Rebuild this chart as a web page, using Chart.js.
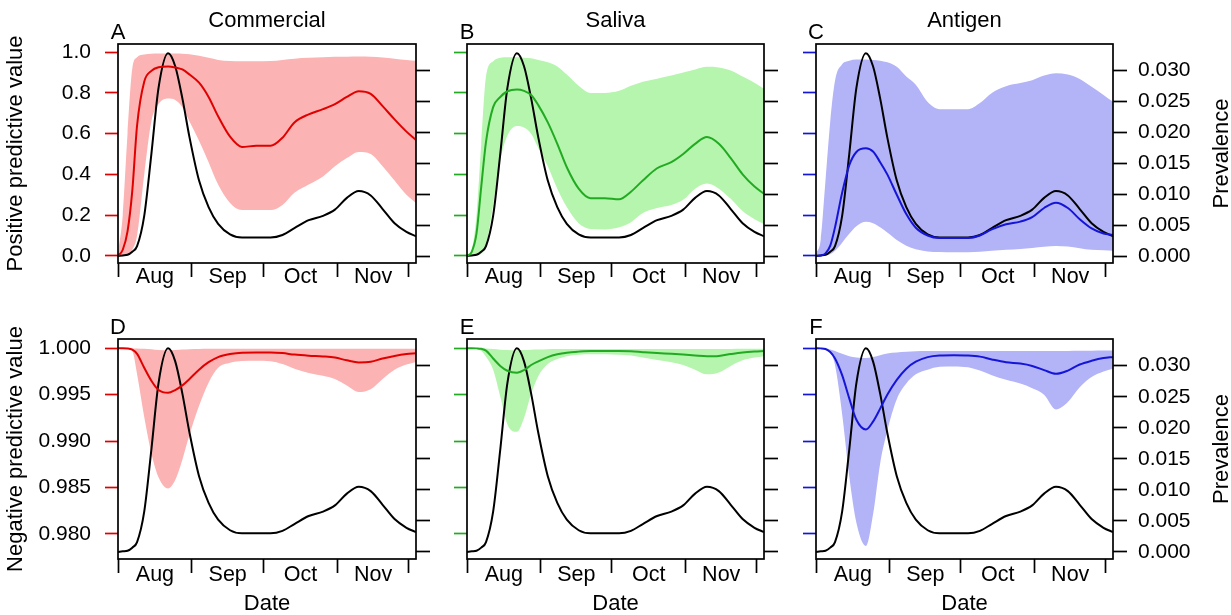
<!DOCTYPE html>
<html>
<head>
<meta charset="utf-8">
<script src="https://cdn.jsdelivr.net/npm/chart.js@4"></script>
<style>
  body { margin: 0; background: #fff; width: 1231px; height: 615px; position: relative; overflow: hidden; }
  canvas { position: absolute; }
</style>
</head>
<body>
<canvas id="pA"></canvas>
<canvas id="pB"></canvas>
<canvas id="pC"></canvas>
<canvas id="pD"></canvas>
<canvas id="pE"></canvas>
<canvas id="pF"></canvas>
<script>
// days since 1 Aug
const days = [0, 2, 4, 6, 8, 11, 14, 17, 21, 24, 27, 30, 34, 38, 42, 47, 52, 58, 64, 69, 74, 80, 86, 91, 96, 101, 106, 111, 116, 121, 125];

const prevalence = [0.0000, 0.0001, 0.0002, 0.0007, 0.0016, 0.0065, 0.0165, 0.0272, 0.0328, 0.0307, 0.0255, 0.0192, 0.0122, 0.0079, 0.0052, 0.0035, 0.0030, 0.0030, 0.0030, 0.0034, 0.0045, 0.0058, 0.0065, 0.0075, 0.0094, 0.0105, 0.0098, 0.0076, 0.0053, 0.0039, 0.0032];

// positive predictive value
const ppvCommercialMean = [0, 0.03, 0.12, 0.32, 0.64, 0.855, 0.908, 0.926, 0.93, 0.925, 0.915, 0.89, 0.85, 0.78, 0.685, 0.585, 0.535, 0.54, 0.54, 0.58, 0.655, 0.695, 0.72, 0.745, 0.78, 0.808, 0.795, 0.735, 0.67, 0.61, 0.569];
const ppvCommercialLow = [0, 0, 0.005, 0.03, 0.10, 0.40, 0.66, 0.745, 0.772, 0.765, 0.73, 0.66, 0.565, 0.46, 0.35, 0.26, 0.225, 0.225, 0.225, 0.25, 0.31, 0.35, 0.39, 0.44, 0.48, 0.51, 0.50, 0.44, 0.37, 0.30, 0.26];
const ppvCommercialHigh = [0.01, 0.2, 0.6, 0.92, 0.975, 0.988, 0.992, 0.993, 0.993, 0.993, 0.992, 0.99, 0.982, 0.972, 0.962, 0.956, 0.955, 0.955, 0.956, 0.962, 0.968, 0.972, 0.975, 0.977, 0.978, 0.979, 0.978, 0.974, 0.968, 0.962, 0.958];

const ppvSalivaMean = [0, 0.02, 0.11, 0.34, 0.56, 0.73, 0.78, 0.808, 0.817, 0.81, 0.79, 0.74, 0.655, 0.55, 0.435, 0.33, 0.283, 0.283, 0.278, 0.315, 0.37, 0.43, 0.46, 0.50, 0.55, 0.583, 0.55, 0.48, 0.40, 0.34, 0.305];
const ppvSalivaLow = [0, 0, 0.003, 0.01, 0.05, 0.25, 0.47, 0.59, 0.638, 0.63, 0.60, 0.53, 0.44, 0.33, 0.24, 0.16, 0.132, 0.13, 0.14, 0.165, 0.21, 0.235, 0.25, 0.275, 0.33, 0.355, 0.33, 0.28, 0.22, 0.18, 0.157];
const ppvSalivaHigh = [0, 0.03, 0.2, 0.55, 0.88, 0.955, 0.972, 0.975, 0.975, 0.973, 0.97, 0.962, 0.95, 0.93, 0.89, 0.835, 0.80, 0.80, 0.81, 0.835, 0.855, 0.87, 0.885, 0.90, 0.915, 0.928, 0.925, 0.91, 0.88, 0.85, 0.82];

const ppvAntigenMean = [0, 0.002, 0.012, 0.05, 0.14, 0.31, 0.445, 0.51, 0.528, 0.512, 0.46, 0.40, 0.30, 0.205, 0.138, 0.10, 0.088, 0.088, 0.088, 0.10, 0.13, 0.155, 0.168, 0.19, 0.235, 0.261, 0.235, 0.18, 0.135, 0.11, 0.103];
const ppvAntigenLow = [0, 0, 0.002, 0.008, 0.025, 0.065, 0.108, 0.145, 0.167, 0.16, 0.14, 0.115, 0.078, 0.05, 0.033, 0.022, 0.019, 0.018, 0.018, 0.02, 0.025, 0.03, 0.034, 0.039, 0.045, 0.049, 0.046, 0.038, 0.03, 0.027, 0.025];
const ppvAntigenHigh = [0.01, 0.08, 0.37, 0.66, 0.86, 0.94, 0.958, 0.964, 0.964, 0.962, 0.958, 0.95, 0.928, 0.88, 0.84, 0.755, 0.72, 0.72, 0.72, 0.75, 0.80, 0.833, 0.848, 0.862, 0.885, 0.897, 0.89, 0.868, 0.83, 0.79, 0.756];

// negative predictive value
const npvCommercialMean = [1.0, 1.0, 0.99998, 0.99985, 0.9994, 0.9979, 0.9965, 0.9955, 0.9952, 0.9955, 0.9960, 0.9967, 0.9977, 0.9985, 0.99905, 0.99938, 0.99953, 0.99955, 0.99955, 0.99948, 0.99932, 0.9992, 0.99912, 0.9990, 0.9987, 0.99848, 0.99855, 0.9989, 0.99918, 0.99938, 0.99946];
const npvCommercialLow = [1.0, 1.0, 0.99995, 0.9997, 0.9972, 0.9926, 0.9887, 0.9861, 0.9849, 0.9858, 0.9880, 0.9907, 0.9938, 0.9963, 0.9979, 0.99845, 0.99862, 0.99865, 0.9986, 0.9983, 0.9978, 0.99735, 0.99705, 0.9967, 0.9960, 0.9953, 0.9956, 0.9967, 0.9977, 0.99825, 0.99853];
const npvCommercialHigh = [1.0, 1.0, 1.0, 0.99999, 0.99998, 0.99994, 0.9999, 0.99982, 0.9998, 0.99982, 0.99986, 0.9999, 0.99992, 0.99994, 0.99995, 0.99995, 0.99995, 0.99995, 0.99995, 0.99995, 0.99995, 0.99995, 0.99995, 0.99995, 0.99995, 0.99995, 0.99995, 0.99995, 0.99996, 0.99996, 0.99996];

const npvSalivaMean = [1.0, 1.0, 0.99999, 0.99994, 0.99975, 0.9989, 0.9981, 0.99758, 0.99737, 0.99765, 0.9982, 0.9986, 0.99905, 0.99935, 0.99953, 0.99964, 0.9997, 0.9997, 0.9997, 0.99967, 0.99958, 0.99948, 0.9994, 0.99932, 0.99922, 0.99914, 0.99918, 0.99938, 0.99955, 0.99965, 0.9997];
const npvSalivaLow = [1.0, 1.0, 0.99995, 0.9997, 0.9991, 0.9977, 0.9948, 0.9918, 0.9910, 0.9925, 0.9951, 0.9970, 0.9983, 0.99885, 0.99915, 0.9993, 0.99935, 0.99935, 0.9993, 0.99922, 0.9990, 0.99875, 0.9985, 0.9982, 0.9977, 0.9972, 0.9974, 0.9981, 0.9987, 0.9990, 0.99915];
const npvSalivaHigh = [1.0, 1.0, 1.0, 0.99999, 0.99997, 0.99992, 0.99985, 0.99982, 0.9998, 0.99982, 0.99985, 0.99987, 0.9999, 0.99991, 0.99992, 0.99992, 0.99992, 0.99992, 0.99992, 0.99992, 0.99992, 0.99992, 0.99992, 0.99992, 0.99992, 0.99992, 0.99992, 0.99993, 0.99994, 0.99995, 0.99995];

const npvAntigenMean = [1.0, 0.99999, 0.99992, 0.9996, 0.9989, 0.9971, 0.9946, 0.9923, 0.99125, 0.9921, 0.9935, 0.9950, 0.9966, 0.9978, 0.99855, 0.99905, 0.99922, 0.99925, 0.99922, 0.9991, 0.9988, 0.9985, 0.99835, 0.9981, 0.99765, 0.99725, 0.9976, 0.99825, 0.99865, 0.99895, 0.99907];
const npvAntigenLow = [1.0, 1.0, 0.99995, 0.9996, 0.9982, 0.9929, 0.9862, 0.9812, 0.9787, 0.9821, 0.9876, 0.9911, 0.9945, 0.9962, 0.9972, 0.9977, 0.9980, 0.99805, 0.99795, 0.9976, 0.9971, 0.9966, 0.9962, 0.9957, 0.9950, 0.9934, 0.9942, 0.9958, 0.9969, 0.9975, 0.9978];
const npvAntigenHigh = [1.0, 1.0, 0.99998, 0.99988, 0.9997, 0.9994, 0.99915, 0.999, 0.99895, 0.99905, 0.99925, 0.99945, 0.99955, 0.99962, 0.99968, 0.99972, 0.99972, 0.99972, 0.99972, 0.99972, 0.99972, 0.99972, 0.99972, 0.99972, 0.99972, 0.99972, 0.99972, 0.99973, 0.99974, 0.99975, 0.99975];

// axes
const monthStarts = [0, 31, 61, 92, 122];
const monthMids = [15.5, 46, 76.5, 107];
const monthLabels = ["Aug", "Sep", "Oct", "Nov"];
const ppvTicks = [0, 0.2, 0.4, 0.6, 0.8, 1.0];
const npvTicks = [0.98, 0.985, 0.99, 0.995, 1.0];
const prevTicks = [0, 0.005, 0.01, 0.015, 0.02, 0.025, 0.03];

const FONT = "'Liberation Sans', Arial, Helvetica, sans-serif";
Chart.defaults.font.family = FONT;
Chart.defaults.font.size = 21;
Chart.defaults.color = "#000";

const RED = "#e00000", RED_BAND = "#fbb3b3";
const GREEN = "#22aa22", GREEN_BAND = "#b6f5ae";
const BLUE = "#1515d8", BLUE_BAND = "#b3b3f7";

// layout (px)
const colLeft = [0, 440, 790], colWidth = [440, 350, 441];
const leftW = [118, 27, 26], rightW = [24, 26, 118];
const rowTop = [0, 300], rowHeight = [300, 315];
const padTop = [44, 39], xAxisH = [37, 56];

const framePlugin = {
  id: "frame",
  afterDraw(chart, args, opts) {
    const { ctx, chartArea: a } = chart;
    ctx.save();
    ctx.strokeStyle = "#000";
    ctx.lineWidth = 1.7;
    ctx.strokeRect(a.left, a.top, a.right - a.left, a.bottom - a.top);
    ctx.fillStyle = "#000";
    ctx.font = "22px " + FONT;
    ctx.textAlign = "center";
    ctx.textBaseline = "alphabetic";
    ctx.fillText(opts.letter, a.left, a.top - 5);
    if (opts.title) ctx.fillText(opts.title, (a.left + a.right) / 2, a.top - 17);
    if (opts.rightTitle) {
      ctx.translate(chart.width - 3, (a.top + a.bottom) / 2);
      ctx.rotate(-Math.PI / 2);
      ctx.fillText(opts.rightTitle, 0, 0);
    }
    ctx.restore();
  }
};

function pts(arr) {
  return days.map((d, i) => ({ x: d, y: arr[i] }));
}

function drawPanel(id, row, col, letter, title, mean, low, high, line, band) {
  const canvas = document.getElementById(id);
  canvas.width = colWidth[col];
  canvas.height = rowHeight[row];
  canvas.style.left = colLeft[col] + "px";
  canvas.style.top = rowTop[row] + "px";
  const top = row === 0;

  new Chart(canvas, {
    type: "line",
    data: {
      datasets: [
        { data: pts(high), yAxisID: "y", borderWidth: 0, backgroundColor: band, fill: "+1", order: 3 },
        { data: pts(low), yAxisID: "y", borderWidth: 0, fill: false, order: 3 },
        { data: pts(prevalence), yAxisID: "y2", borderColor: "#000", borderWidth: 2, order: 2 },
        { data: pts(mean), yAxisID: "y", borderColor: line, borderWidth: 2, order: 1 }
      ]
    },
    options: {
      responsive: false,
      devicePixelRatio: 1,
      animation: false,
      layout: { padding: { top: padTop[row], left: 0, right: 0, bottom: 0 } },
      elements: {
        point: { radius: 0 },
        line: { cubicInterpolationMode: "monotone" }
      },
      plugins: {
        legend: { display: false },
        tooltip: { enabled: false },
        frame: { letter, title, rightTitle: col === 2 ? "Prevalence" : "" }
      },
      scales: {
        x: {
          type: "linear",
          min: 0,
          max: 125,
          afterBuildTicks: s => { s.ticks = monthStarts.concat(monthMids).sort((a, b) => a - b).map(v => ({ value: v })); },
          afterFit: s => { s.height = xAxisH[row]; },
          grid: {
            drawOnChartArea: false,
            tickLength: 14,
            tickWidth: 1.7,
            tickColor: c => (c.tick && monthStarts.includes(c.tick.value)) ? "#000" : "rgba(0,0,0,0)"
          },
          border: { display: false },
          ticks: {
            autoSkip: false,
            maxRotation: 0,
            font: { size: 21.5 },
            padding: top ? -13 : -11,
            callback: v => { const i = monthMids.indexOf(v); return i < 0 ? "" : monthLabels[i]; }
          },
          title: { display: !top, text: "Date", font: { size: 22, lineHeight: 1 }, padding: 0 }
        },
        y: {
          position: "left",
          min: top ? -0.035 : 0.9773,
          max: top ? 1.04 : 1.001,
          afterBuildTicks: s => { s.ticks = (top ? ppvTicks : npvTicks).map(v => ({ value: v })); },
          afterFit: s => { s.width = leftW[col]; },
          grid: { drawOnChartArea: false, tickLength: 13, tickWidth: 1.7, tickColor: line },
          border: { display: false },
          ticks: {
            autoSkip: false,
            padding: 14,
            callback: v => col === 0 ? v.toFixed(top ? 1 : 3) : ""
          },
          title: {
            display: col === 0,
            text: top ? "Positive predictive value" : "Negative predictive value",
            font: { size: 22 },
            padding: { top: 3 }
          }
        },
        y2: {
          position: "right",
          min: -0.00113,
          max: 0.0343,
          afterBuildTicks: s => { s.ticks = prevTicks.map(v => ({ value: v })); },
          afterFit: s => { s.width = rightW[col]; },
          grid: { drawOnChartArea: false, tickLength: 14, tickWidth: 1.7, tickColor: "#000" },
          border: { display: false },
          ticks: {
            autoSkip: false,
            padding: 11,
            callback: v => col === 2 ? v.toFixed(3) : ""
          }
        }
      }
    },
    plugins: [framePlugin]
  });
}

drawPanel("pA", 0, 0, "A", "Commercial", ppvCommercialMean, ppvCommercialLow, ppvCommercialHigh, RED, RED_BAND);
drawPanel("pB", 0, 1, "B", "Saliva", ppvSalivaMean, ppvSalivaLow, ppvSalivaHigh, GREEN, GREEN_BAND);
drawPanel("pC", 0, 2, "C", "Antigen", ppvAntigenMean, ppvAntigenLow, ppvAntigenHigh, BLUE, BLUE_BAND);
drawPanel("pD", 1, 0, "D", "", npvCommercialMean, npvCommercialLow, npvCommercialHigh, RED, RED_BAND);
drawPanel("pE", 1, 1, "E", "", npvSalivaMean, npvSalivaLow, npvSalivaHigh, GREEN, GREEN_BAND);
drawPanel("pF", 1, 2, "F", "", npvAntigenMean, npvAntigenLow, npvAntigenHigh, BLUE, BLUE_BAND);
</script>
</body>
</html>
